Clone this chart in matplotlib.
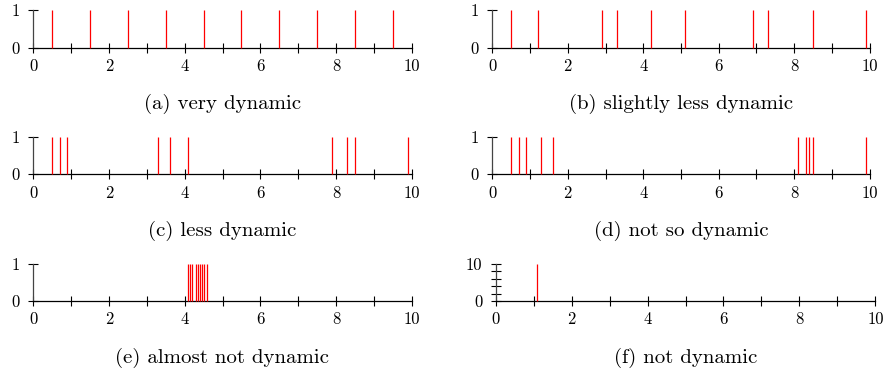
import matplotlib
matplotlib.use('Agg')
import matplotlib.pyplot as plt

plt.rcParams['font.family'] = 'cmr10'
plt.rcParams['mathtext.fontset'] = 'cm'
plt.rcParams['axes.formatter.use_mathtext'] = True

# Data: impulse positions (x) and heights for each panel
pos_a = [0.5, 1.5, 2.5, 3.5, 4.5, 5.5, 6.5, 7.5, 8.5, 9.5]
pos_b = [0.5, 1.2, 2.9, 3.3, 4.2, 5.1, 6.9, 7.3, 8.5, 9.9]
pos_c = [0.5, 0.7, 0.9, 3.3, 3.6, 4.1, 7.9, 8.3, 8.5, 9.9]
pos_d = [0.5, 0.7, 0.9, 1.3, 1.6, 8.1, 8.3, 8.4, 8.5, 9.9]
pos_e = [4.1, 4.15, 4.2, 4.3, 4.35, 4.4, 4.45, 4.5, 4.6]
pos_f = [1.1]
height_unit = 1
height_f = 10

captions = ["(a) very dynamic", "(b) slightly less dynamic", "(c) less dynamic",
            "(d) not so dynamic", "(e) almost not dynamic", "(f) not dynamic"]
xticks = [0, 2, 4, 6, 8, 10]
xtick_labels = ["0", "2", "4", "6", "8", "10"]
xminor = [1, 3, 5, 7, 9]
yticks_unit = [0, 1]
yticks_f = [0, 10]
yminor_f = [2, 4, 6, 8]

fig = plt.figure(figsize=(8.86, 3.77), dpi=100)

W = 886.0
H = 377.0
rows_px = [(10.3, 47.7), (137.0, 174.3), (263.7, 301.0)]
left_col = (33.3, 411.7)
right_col = (492.3, 869.7)
right_col_f = (495.7, 875.3)
caption_y_px = [104, 231, 358]

panels = [
    (pos_a, height_unit, yticks_unit, [], 0, 0),
    (pos_b, height_unit, yticks_unit, [], 0, 1),
    (pos_c, height_unit, yticks_unit, [], 1, 0),
    (pos_d, height_unit, yticks_unit, [], 1, 1),
    (pos_e, height_unit, yticks_unit, [], 2, 0),
    (pos_f, height_f, yticks_f, yminor_f, 2, 1),
]

for i, (pos, h, yt, ymn, r, c) in enumerate(panels):
    if c == 0:
        x0, x1 = left_col
    elif r == 2:
        x0, x1 = right_col_f
    else:
        x0, x1 = right_col
    ytop, ybot = rows_px[r]
    ax = fig.add_axes([x0 / W, 1 - ybot / H, (x1 - x0) / W, (ybot - ytop) / H])
    ax.vlines(pos, 0, h, colors='red', linewidth=0.9, clip_on=False, zorder=3)
    ax.set_xlim(0, 10)
    ax.set_ylim(0, yt[-1])
    ax.set_xticks(xticks)
    ax.set_xticklabels(xtick_labels)
    ax.set_xticks(xminor, minor=True)
    ax.set_yticks(yt)
    ax.set_yticklabels([str(v) for v in yt])
    if ymn:
        ax.set_yticks(ymn, minor=True)
    for s in ['top', 'right']:
        ax.spines[s].set_visible(False)
    ax.spines['left'].set_color('#444444')
    ax.spines['bottom'].set_color('black')
    ax.spines['left'].set_linewidth(0.9)
    ax.spines['bottom'].set_linewidth(0.9)
    ax.patch.set_visible(False)
    ax.tick_params(axis='both', which='both', direction='inout', length=7,
                   width=0.8, color='black', labelsize=12)
    ax.tick_params(axis='x', which='both', pad=4.5)
    ax.tick_params(axis='y', which='both', pad=6)
    cx = (x0 + x1) / 2 / W
    fig.text(cx, 1 - caption_y_px[r] / H, captions[i], ha='center', va='center', fontsize=15)

fig.savefig('out.png', dpi=100)
